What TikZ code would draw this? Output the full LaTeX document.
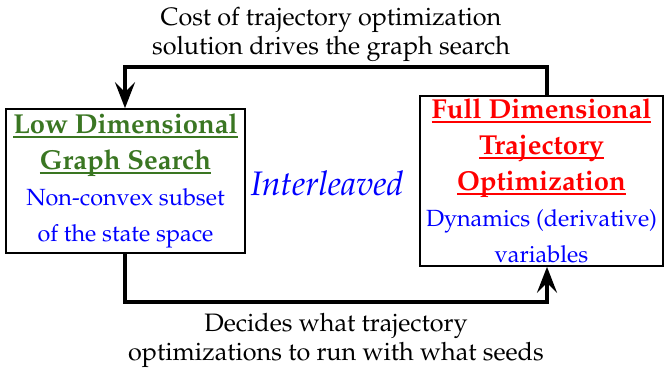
\documentclass[tikz,border=0pt]{standalone}
\usepackage[T1]{fontenc}
\usepackage{mathpazo}
\usetikzlibrary{arrows.meta,positioning}

\definecolor{lowgreen}{RGB}{58,118,34}

% heading underline: fixed offset below the baseline
\newcommand\hdline[1]{\setbox0\hbox{#1}\rlap{\rule[-2.4pt]{\wd0}{1.1pt}}\box0}

\tikzset{
	stage/.style={draw, line width=0.8pt, fill=white, align=center, inner sep=1pt},
	flow/.style={line width=2pt, line join=miter, -{Stealth[length=13pt,width=10pt,inset=5pt]}},
	note/.style={align=center, font=\fontsize{12.6}{14.5}\selectfont},
	heading/.style={font=\fontsize{13.7}{18}\selectfont\bfseries},
	sub/.style={font=\fontsize{11.7}{15.5}\selectfont},
}

\begin{document}
\begin{tikzpicture}[x=0.5pt,y=0.5pt]
			\useasboundingbox (0,0) rectangle (665,371);
			
			\node[stage, heading, minimum width=119.5pt, minimum height=72pt] (graph) at (125.5,190)
				{\color{lowgreen}\hdline{Low Dimensional}\\
				 \color{lowgreen}\hdline{Graph Search}\\
				 {\mdseries\fontsize{11.7}{16}\selectfont\color{blue}Non-convex subset}\\
				 {\mdseries\fontsize{11.7}{16}\selectfont\color{blue}of the state space}};
			\node[stage, heading, minimum width=121.5pt, minimum height=85pt] (traj) at (541.5,190)
				{\color{red}\hdline{Full Dimensional}\\
				 \color{red}\hdline{Trajectory}\\
				 \color{red}\hdline{Optimization}\\
				 {\mdseries\fontsize{11.7}{15}\selectfont\color{blue}Dynamics (derivative)}\\
				 {\mdseries\fontsize{11.7}{15}\selectfont\color{blue}variables}};
			
			\node[font=\fontsize{17}{20}\selectfont\itshape, text=blue] (mid) at (327,188) {Interleaved};
			
			\coordinate (tr) at (547,304);
			\coordinate (tl) at (125,304);
			\coordinate (bl) at (125,69);
			\coordinate (br) at (547,69);
			
			\draw[flow] (traj.north -| tr) -- (tr) -- (tl) -- (graph.north -| tl);
			\draw[flow] (graph.south -| bl) -- (bl) -- (br) -- (traj.south -| br);
			
			\node[note] (cost) at (331,337) {Cost of trajectory optimization\\solution drives the graph search};
			\node[note] (seeds) at (336,31) {Decides what trajectory\\optimizations to run with what seeds};
		\end{tikzpicture}
\end{document}
